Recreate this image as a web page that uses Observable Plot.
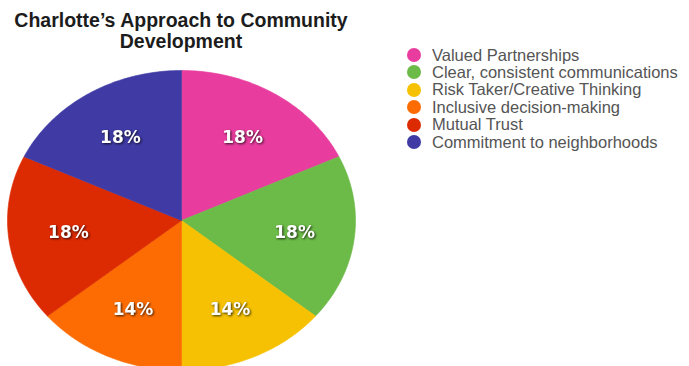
<!DOCTYPE html>
<html>
<head>
<meta charset="utf-8">
<script src="https://cdn.jsdelivr.net/npm/d3@7"></script>
<script src="https://cdn.jsdelivr.net/npm/@observablehq/plot@0.6"></script>
<style>
  html, body { margin: 0; padding: 0; background: #fff; }
  #wrap { position: relative; width: 689px; height: 366px; overflow: hidden; }
  #wrap svg.pie { position: absolute; left: 0; top: 0; }
  #title { position: absolute; left: 0; top: 10px; width: 362px; text-align: center;
    font-family: "Liberation Sans", Arial, sans-serif; font-weight: bold; font-size: 19.5px;
    line-height: 20.5px; color: #1c1c1c; }
  #legend { position: absolute; left: 0; top: 0; }
  .row { position: absolute; left: 407px; height: 18px; display: flex; align-items: center;
    font-family: "Liberation Sans", Arial, sans-serif; font-size: 16.5px; color: #555; white-space: nowrap; }
  .dot { width: 14px; height: 14px; border-radius: 50%; margin-right: 11px; flex: none; }
  svg.pie g[aria-label="text"] { filter: drop-shadow(1px 1px 1px rgba(0,0,0,0.75)); }
</style>
</head>
<body>
<div id="wrap">
  <div id="title">Charlotte’s Approach to Community<br>Development</div>
  <div id="legend"></div>
</div>
<script>
const categories = [
  "Valued Partnerships",
  "Clear, consistent communications",
  "Risk Taker/Creative Thinking",
  "Inclusive decision-making",
  "Mutual Trust",
  "Commitment to neighborhoods"
];
const values = [18, 18, 14, 14, 18, 18];
const colors = ["#e83c9e", "#6cba48", "#f5c102", "#fd6c02", "#dc2a02", "#3f3aa4"];
const labels = values.map(v => v + "%");

// slice geometry in unit-circle coordinates (angles clockwise from top)
const arcs = d3.pie().sort(null)(values);
const pts = [];
arcs.forEach((a, i) => {
  const cat = categories[i];
  pts.push({cat, x: 0, y: 0});
  const n = Math.max(2, Math.ceil((a.endAngle - a.startAngle) / (Math.PI / 180)));
  for (let k = 0; k <= n; k++) {
    const t = a.startAngle + (a.endAngle - a.startAngle) * k / n;
    pts.push({cat, x: Math.sin(t), y: Math.cos(t)});
  }
  pts.push({cat, x: 0, y: 0});
});
const labelR = 0.655;
const labelData = arcs.map((a, i) => {
  const m = (a.startAngle + a.endAngle) / 2;
  return {cat: categories[i], text: labels[i], x: labelR * Math.sin(m), y: labelR * Math.cos(m)};
});

const chart = Plot.plot({
  width: 689,
  height: 366,
  marginLeft: 7,
  marginRight: 334,
  marginTop: 70,
  marginBottom: 0,
  className: "pie",
  style: {background: "transparent", overflow: "hidden"},
  x: {domain: [-1, 1], axis: null},
  y: {domain: [1 - 296 / 150, 1], axis: null},
  color: {domain: categories, range: colors},
  marks: [
    Plot.line(pts, {x: "x", y: "y", z: "cat", fill: "cat", stroke: "cat", strokeWidth: 0.6, curve: "linear"}),
    Plot.text(labelData, {x: "x", y: "y", text: "text", fill: "white", fontSize: 17,
      fontWeight: "bold", fontFamily: "DejaVu Sans", textAnchor: "middle", lineAnchor: "middle"})
  ]
});
document.getElementById("wrap").prepend(chart);

const legend = document.getElementById("legend");
categories.forEach((c, i) => {
  const row = document.createElement("div");
  row.className = "row";
  row.style.top = (55 - 9 + i * 17.4) + "px";
  const dot = document.createElement("span");
  dot.className = "dot";
  dot.style.background = colors[i];
  const txt = document.createElement("span");
  txt.textContent = c;
  row.appendChild(dot);
  row.appendChild(txt);
  legend.appendChild(row);
});
</script>
</body>
</html>
